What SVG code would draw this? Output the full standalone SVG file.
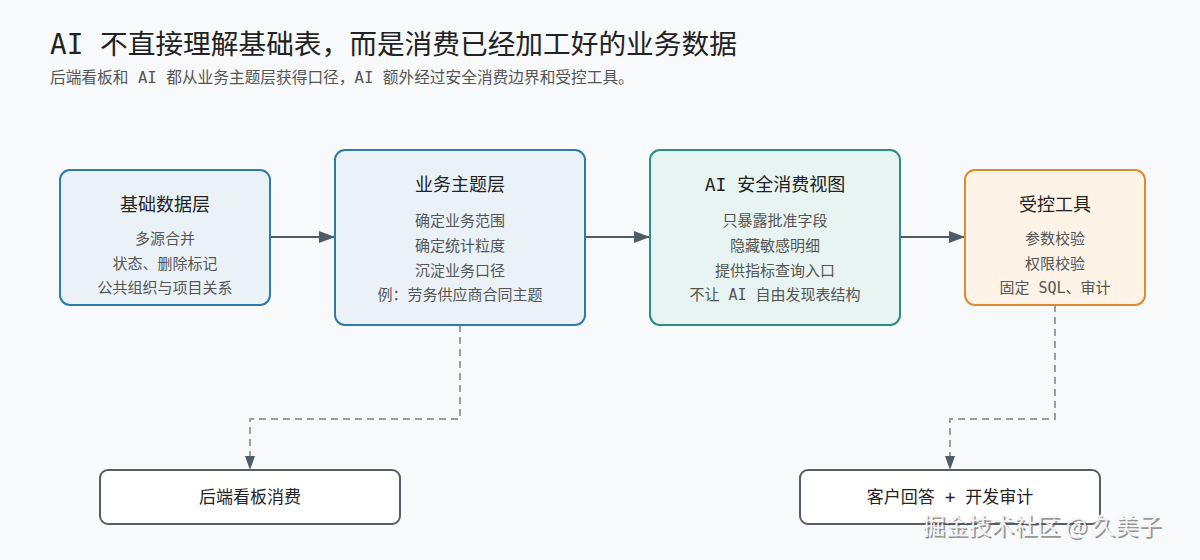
<svg xmlns="http://www.w3.org/2000/svg" width="1200" height="560" viewBox="0 0 1200 560">
  <style>
    text { font-family: "DejaVu Sans Mono", "Noto Sans CJK SC", monospace; }
    .title { font-size: 27.7px; fill: #222; }
    .sub { font-size: 15.7px; fill: #555; }
    .nt { font-size: 18px; fill: #222; text-anchor: middle; }
    .nl { font-size: 15px; fill: #555; text-anchor: middle; }
    .bt { font-size: 17px; fill: #222; text-anchor: middle; }
    .solid { stroke: #4f5b66; stroke-width: 2; fill: none; }
    .dash { stroke: #9a9fa5; stroke-width: 2; fill: none; stroke-dasharray: 7 5; }
    .wm { font-family: "Noto Sans CJK SC", sans-serif; font-size: 23px; }
  </style>
  <defs>
    <marker id="ah" viewBox="0 0 16 12" refX="16" refY="6" markerWidth="16" markerHeight="12" markerUnits="userSpaceOnUse" orient="auto">
      <path d="M0,0 L16,6 L0,12 Z" fill="#4f5b66"/>
    </marker>
    <marker id="ahs" viewBox="0 0 14 10" refX="14" refY="5" markerWidth="14" markerHeight="10" markerUnits="userSpaceOnUse" orient="auto">
      <path d="M0,0 L14,5 L0,10 Z" fill="#4f5b66"/>
    </marker>
  </defs>
  <rect x="0" y="0" width="1200" height="560" fill="#f7f9fb"/>

  <text class="title" x="50" y="54">AI 不直接理解基础表，而是消费已经加工好的业务数据</text>
  <text class="sub" x="50" y="83">后端看板和 AI 都从业务主题层获得口径，AI 额外经过安全消费边界和受控工具。</text>

  <g id="connectors">
    <line class="solid" x1="270" y1="237" x2="335" y2="237" marker-end="url(#ah)"/>
    <line class="solid" x1="585" y1="237" x2="650" y2="237" marker-end="url(#ah)"/>
    <line class="solid" x1="900" y1="237" x2="965" y2="237" marker-end="url(#ah)"/>
    <path class="dash" d="M460,325 V419 H250 V458"/>
    <path d="M250,456 V470" stroke="#4f5b66" stroke-width="2" fill="none" marker-end="url(#ahs)" stroke-opacity="0"/>
    <path class="dash" d="M1055,305 V419 H950 V458"/>
    <path d="M950,456 V470" stroke="#4f5b66" stroke-width="2" fill="none" marker-end="url(#ahs)" stroke-opacity="0"/>
  </g>

  <g id="node-base">
    <rect x="60" y="170" width="210" height="135" rx="10" fill="#eaf2f8" stroke="#2e7bab" stroke-width="2"/>
    <text class="nt" x="165" y="211">基础数据层</text>
    <text class="nl" x="165" y="244">多源合并</text>
    <text class="nl" x="165" y="269">状态、删除标记</text>
    <text class="nl" x="165" y="293">公共组织与项目关系</text>
  </g>

  <g id="node-topic">
    <rect x="335" y="150" width="250" height="175" rx="10" fill="#eaf2f8" stroke="#2e7bab" stroke-width="2"/>
    <text class="nt" x="460" y="191">业务主题层</text>
    <text class="nl" x="460" y="226">确定业务范围</text>
    <text class="nl" x="460" y="251">确定统计粒度</text>
    <text class="nl" x="460" y="276">沉淀业务口径</text>
    <text class="nl" x="460" y="300">例：劳务供应商合同主题</text>
  </g>

  <g id="node-view">
    <rect x="650" y="150" width="250" height="175" rx="10" fill="#e8f4f1" stroke="#2a8f80" stroke-width="2"/>
    <text class="nt" x="775" y="191">AI 安全消费视图</text>
    <text class="nl" x="775" y="226">只暴露批准字段</text>
    <text class="nl" x="775" y="251">隐藏敏感明细</text>
    <text class="nl" x="775" y="276">提供指标查询入口</text>
    <text class="nl" x="775" y="300">不让 AI 自由发现表结构</text>
  </g>

  <g id="node-tools">
    <rect x="965" y="170" width="180" height="135" rx="10" fill="#fdf3e6" stroke="#e08a30" stroke-width="2"/>
    <text class="nt" x="1055" y="211">受控工具</text>
    <text class="nl" x="1055" y="244">参数校验</text>
    <text class="nl" x="1055" y="269">权限校验</text>
    <text class="nl" x="1055" y="293">固定 SQL、审计</text>
  </g>

  <g id="node-dashboard">
    <rect x="100" y="470" width="300" height="54" rx="8" fill="#ffffff" stroke="#555e66" stroke-width="2"/>
    <text class="bt" x="250" y="503">后端看板消费</text>
  </g>

  <g id="node-answer">
    <rect x="800" y="470" width="300" height="54" rx="8" fill="#ffffff" stroke="#555e66" stroke-width="2"/>
    <text class="bt" x="950" y="503">客户回答 + 开发审计</text>
  </g>

  <g id="watermark">
    <text class="wm" x="924" y="536" fill="#555" opacity="0.6">掘金技术社区 @ 久美子</text>
    <text class="wm" x="922" y="534" fill="#f4f4f4">掘金技术社区 @ 久美子</text>
  </g>
</svg>
